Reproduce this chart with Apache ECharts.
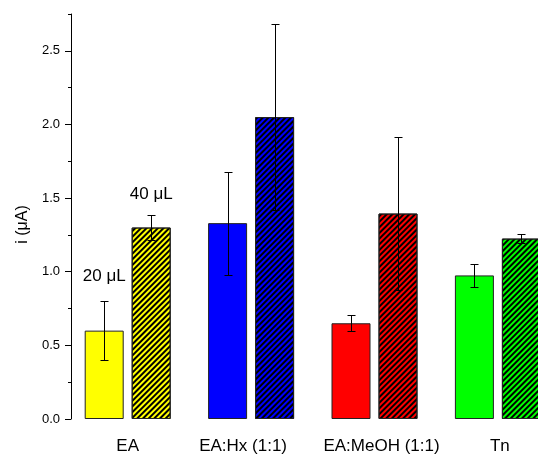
<!DOCTYPE html>
<html>
<head>
<meta charset="utf-8">
<script src="https://cdn.jsdelivr.net/npm/echarts@6/dist/echarts.min.js"></script>
<style>
  html, body { margin: 0; padding: 0; background: #fff; }
  #chart { width: 538px; height: 456px; }
</style>
</head>
<body>
<div id="chart"></div>
<script>
// Solvent groups along the x axis
const categories = ['EA', 'EA:Hx (1:1)', 'EA:MeOH (1:1)', 'Tn'];
// Sample volumes (one bar series each)
const seriesNames = ['20 \u03bcL', '40 \u03bcL'];
// Mean current (µA) and its error for each volume
const current20 = [0.60, 1.33, 0.65, 0.975];
const error20 = [0.20, 0.35, 0.055, 0.08];
const current40 = [1.30, 2.05, 1.395, 1.225];
const error40 = [0.085, 0.63, 0.52, 0.03];
// Y axis ticks
const yTickLabels = ['0.0', '0.5', '1.0', '1.5', '2.0', '2.5'];
const yMinorTicks = [0.25, 0.75, 1.25, 1.75, 2.25, 2.75];
const yMax = 2.75;

// Fill colours per group
const groupColors = ['#ffff00', '#0000ff', '#ff0000', '#00ff00'];
// Small horizontal nudges for the group captions (px, + = right)
const captionNudge = [0, -8, 7, 2];

const FONT = 'Liberation Sans, Arial, sans-serif';
const BAR_W = 39;
const BAR_GAP = 8;
const SHIFT = (BAR_W + BAR_GAP) / 2;

const hatch = {
  symbol: 'rect',
  symbolSize: 1,
  dashArrayX: [1, 0],
  dashArrayY: [1.5, 1.5],
  rotation: -Math.PI / 4,
  color: '#000'
};

function barSeries(name, values, decal, labelDist) {
  return {
    name: name,
    type: 'bar',
    barWidth: BAR_W,
    barGap: (BAR_GAP / BAR_W * 100) + '%',
    xAxisIndex: 0,
    yAxisIndex: 0,
    z: 2,
    data: values.map((v, i) => ({
      value: v,
      itemStyle: { color: groupColors[i] },
      label: i === 0 ? {
        show: true,
        position: 'top',
        distance: labelDist,
        formatter: '{a}',
        fontFamily: FONT,
        fontSize: 17,
        color: '#000'
      } : { show: false }
    })),
    itemStyle: Object.assign(
      { borderColor: '#222', borderWidth: 1 },
      decal ? { decal: decal } : {}
    )
  };
}

function errorSeries(means, errs, shift) {
  return {
    type: 'custom',
    xAxisIndex: 0,
    yAxisIndex: 0,
    z: 5,
    silent: true,
    data: means.map((m, i) => [i, m + errs[i], m - errs[i]]),
    encode: { x: 0, y: [1, 2] },
    renderItem: function (params, api) {
      const hi = api.coord([api.value(0), api.value(1)]);
      const lo = api.coord([api.value(0), api.value(2)]);
      const x = Math.round(hi[0] + shift) + 0.5;
      const y1 = Math.round(hi[1]) + 0.5;
      const y2 = Math.round(lo[1]) + 0.5;
      const cap = 4;
      const st = { stroke: '#000', lineWidth: 1 };
      return {
        type: 'group',
        children: [
          { type: 'line', shape: { x1: x, y1: y1, x2: x, y2: y2 }, style: st },
          { type: 'line', shape: { x1: x - cap, y1: y1, x2: x + cap, y2: y1 }, style: st },
          { type: 'line', shape: { x1: x - cap, y1: y2, x2: x + cap, y2: y2 }, style: st }
        ]
      };
    }
  };
}

// Rich styles that nudge each caption sideways
const captionRich = {};
captionNudge.forEach((d, i) => {
  captionRich['c' + i] = {
    fontFamily: FONT, fontSize: 17, color: '#000',
    padding: d >= 0 ? [0, 0, 0, 2 * d] : [0, -2 * d, 0, 0]
  };
});

const chart = echarts.init(document.getElementById('chart'), null, { renderer: 'canvas' });
chart.setOption({
  animation: false,
  backgroundColor: '#fff',
  grid: {
    left: 66, top: 14, bottom: 37, right: 538 - 66 - 4 * 123.4,
    containLabel: false,
    outerBoundsMode: 'none'
  },
  xAxis: {
    type: 'category',
    data: categories,
    axisLine: { show: false },
    axisTick: { show: false },
    axisLabel: {
      interval: 0, margin: 19, fontFamily: FONT, fontSize: 17, color: '#000',
      formatter: (v, i) => '{c' + i + '|' + v + '}',
      rich: captionRich
    }
  },
  yAxis: [
    {
      type: 'value',
      min: 0,
      max: yMax,
      offset: -5,
      name: 'i (\u03bcA)',
      nameLocation: 'middle',
      nameGap: 37,
      nameTextStyle: { fontFamily: FONT, fontSize: 16, color: '#000', padding: [0, 16, 0, 0] },
      axisLine: { show: true, lineStyle: { color: '#000', width: 1 } },
      axisTick: {
        show: true, inside: false, length: 6,
        customValues: yTickLabels.map(Number),
        lineStyle: { color: '#000' }
      },
      axisLabel: {
        margin: 11,
        customValues: yTickLabels.map(Number),
        formatter: (v) => yTickLabels.find(t => Number(t) === v) || '',
        fontFamily: FONT, fontSize: 13, color: '#000'
      },
      splitLine: { show: false }
    },
    {
      type: 'value',
      min: 0,
      max: yMax,
      offset: -5,
      position: 'left',
      axisLine: { show: false },
      axisTick: {
        show: true, inside: false, length: 3,
        customValues: yMinorTicks,
        lineStyle: { color: '#000' }
      },
      axisLabel: { show: false },
      splitLine: { show: false }
    }
  ],
  series: [
    barSeries(seriesNames[0], current20, null, 46),
    barSeries(seriesNames[1], current40, hatch, 25),
    errorSeries(current20, error20, -SHIFT),
    errorSeries(current40, error40, SHIFT)
  ]
});
</script>
</body>
</html>
